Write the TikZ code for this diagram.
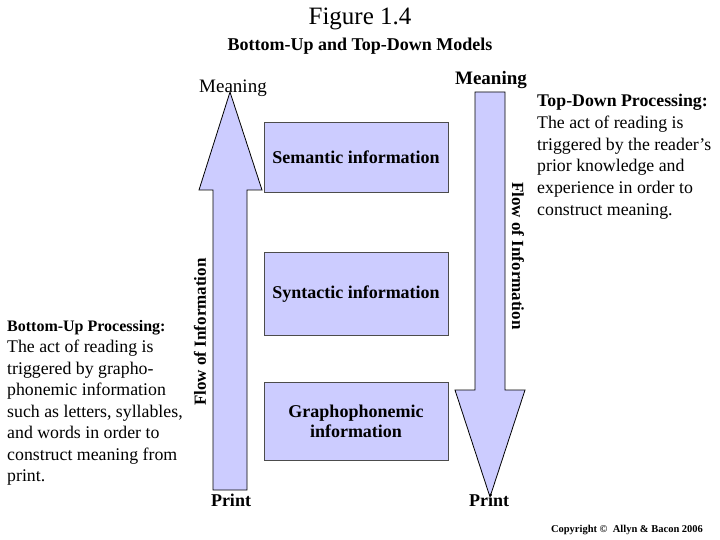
\documentclass[tikz,border=0pt]{standalone}
\usepackage{fontspec}
\setmainfont{Liberation Serif}
\begin{document}
\begin{tikzpicture}[x=1pt,y=-1pt,
  box/.style={draw=black!70,line width=0.5pt,fill=blue!20},
  arr/.style={draw=black,line width=0.8pt,fill=blue!20},
  lbl/.style={font=\fontsize{19}{21}\selectfont},
  blbl/.style={font=\bfseries\fontsize{18}{21}\selectfont},
  para/.style={font=\fontsize{17.8}{21.8}\selectfont,align=left,anchor=north west,inner sep=0pt}]
\useasboundingbox (0,0) rectangle (720,540);
\node[font=\fontsize{25}{27}\selectfont] (title) at (360,19) {Figure 1.4};
\node[font=\bfseries\fontsize{18}{20}\selectfont] (sub) at (360,46) {Bottom-Up and Top-Down Models};
\node[lbl] (m1) at (233,88) {Meaning};
\node[font=\bfseries\fontsize{19}{21}\selectfont] (m2) at (491,80) {Meaning};
\draw[arr] (213,490) -- (213,190) -- (199,190) -- (230,92) -- (262,190) -- (247,190) -- (247,490) -- cycle;
\draw[arr] (475,92) -- (505,92) -- (505,390) -- (525,390) -- (490,497) -- (455,390) -- (475,390) -- cycle;
\node[box,minimum width=184,minimum height=70,blbl] (sem) at (356,157) {Semantic information};
\node[box,minimum width=184,minimum height=83,blbl] (syn) at (356,294) {Syntactic information};
\node[box,minimum width=184,minimum height=78,blbl,align=center,font=\bfseries\fontsize{18}{20}\selectfont] (gra) at (356,421) {Graphophonemic\\information};
\node[font=\bfseries\fontsize{17}{19}\selectfont,rotate=90] (f1) at (200,332) {Flow of Information};
\node[font=\bfseries\fontsize{17}{19}\selectfont,rotate=-90] (f2) at (518,256) {Flow of Information};
\node[para,font=\fontsize{17.8}{21.5}\selectfont] (bu) at (7,320) {\textbf{\fontsize{16}{18}\selectfont Bottom-Up Processing:}\\The act of reading is\\triggered by grapho-\\phonemic information\\such as letters, syllables,\\and words in order to\\construct meaning from\\print.};
\node[para] (td) at (537,94) {\textbf{Top-Down Processing:}\\The act of reading is\\triggered by the reader's\\prior knowledge and\\experience in order to\\construct meaning.};
\node[blbl] (p1) at (231,500) {Print};
\node[blbl] (p2) at (489,500) {Print};
\node[font=\bfseries\fontsize{10.5}{12}\selectfont] (c) at (627,530) {Copyright \copyright\ \ Allyn \& Bacon 2006};
\end{tikzpicture}
\end{document}
